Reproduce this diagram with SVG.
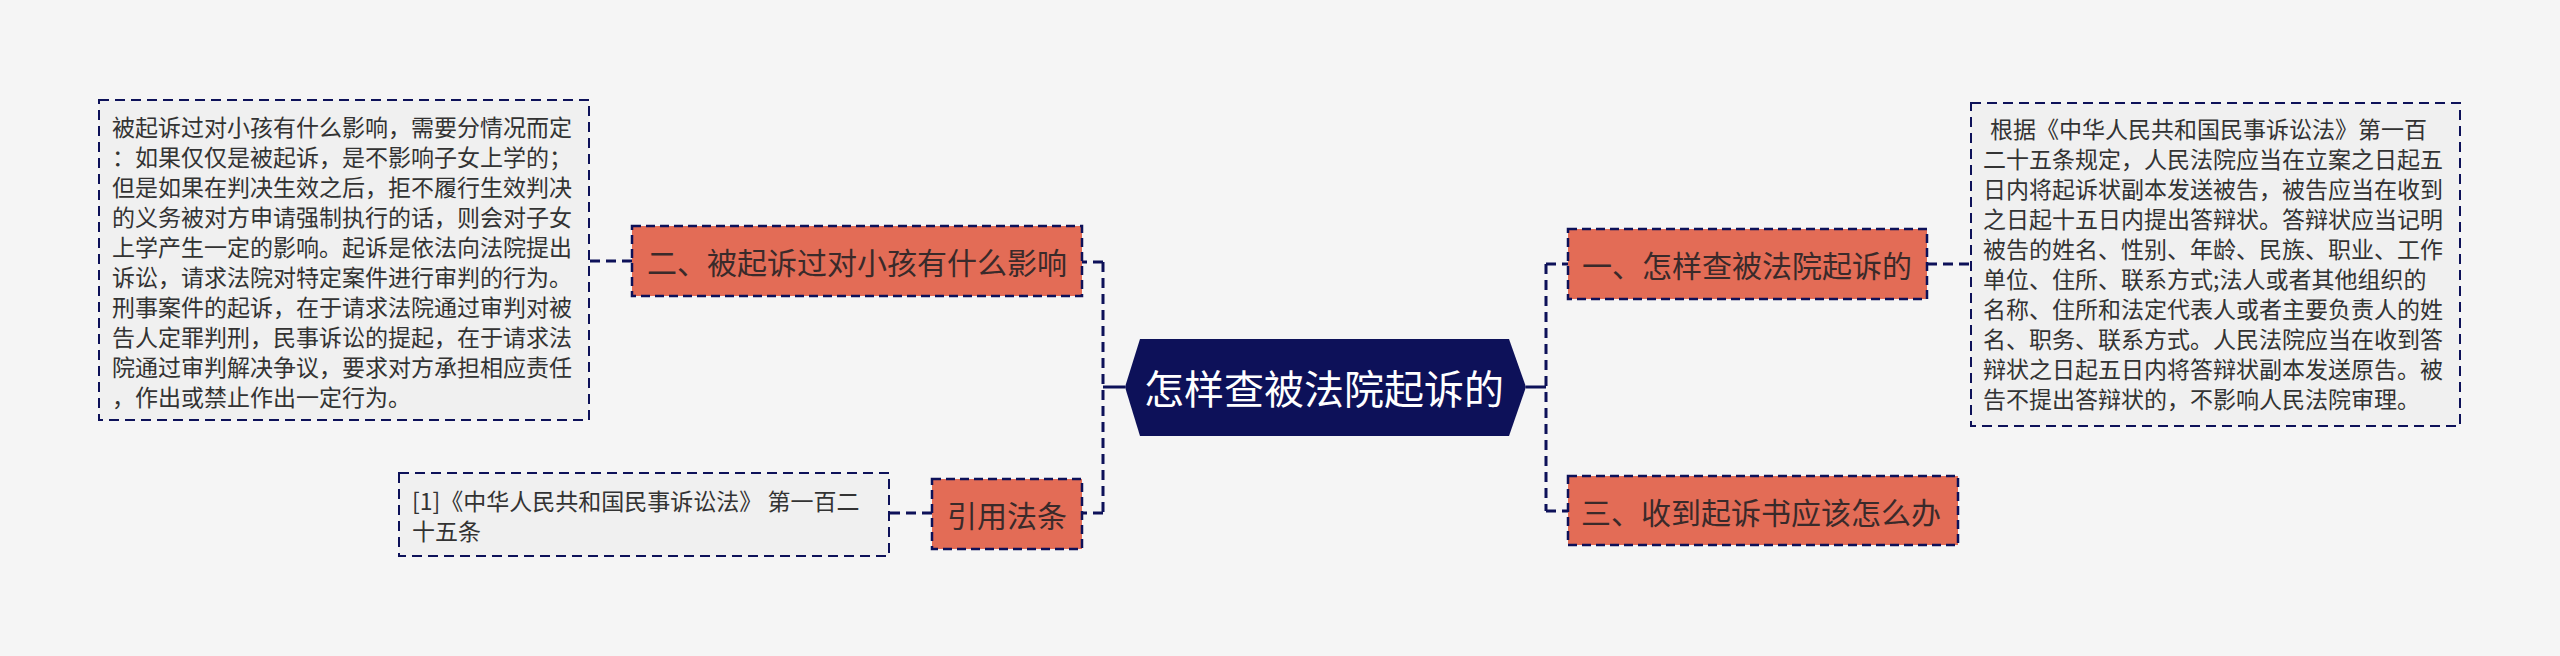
<svg xmlns="http://www.w3.org/2000/svg" width="2560" height="656" viewBox="0 0 2560 656">
<style>
.bg{fill:#f5f5f5}
.conn{fill:none;stroke:#0d1159;stroke-width:3;stroke-dasharray:10 6}
.solid{fill:none;stroke:#0d1159;stroke-width:3}
.topic{fill:#e36c56;stroke:#0d1159;stroke-width:2.5;stroke-dasharray:9 5}
.note{fill:#f0f0f0;stroke:#0d1159;stroke-width:2;stroke-dasharray:10 6}
.tt{font-family:"Noto Sans CJK SC","Noto Sans",sans-serif;font-size:30px;fill:#3a2a2a;text-anchor:middle;dominant-baseline:central}
.nt{font-family:"Noto Sans CJK SC","Noto Sans",sans-serif;font-size:23px;fill:#333333}
.ct{font-family:"Noto Sans CJK SC","Noto Sans",sans-serif;font-size:40px;fill:#ffffff;text-anchor:middle;dominant-baseline:central}
</style>
<rect class="bg" x="0" y="0" width="2560" height="656"/>
<g id="connectors">
<path class="solid" d="M1125 387H1103"/>
<path class="conn" d="M1103 262V514"/>
<path class="conn" d="M1103 262H1082"/>
<path class="conn" d="M1103 513H1082"/>
<path class="conn" d="M632 261H589"/>
<path class="conn" d="M932 513H889"/>
<path class="solid" d="M1526 387H1546"/>
<path class="conn" d="M1546 264V511"/>
<path class="conn" d="M1546 264H1568"/>
<path class="conn" d="M1546 511H1568"/>
<path class="conn" d="M1927 264H1971"/>
</g>
<g id="center">
<polygon points="1125,387 1140,339 1509,339 1526,387 1509,436 1140,436" fill="#0d1159"/>
<text class="ct" x="1324" y="387">怎样查被法院起诉的</text>
</g>
<g id="topic1">
<rect class="topic" x="1568" y="229" width="359" height="70"/>
<text class="tt" x="1747" y="264">一、怎样查被法院起诉的</text>
</g>
<g id="topic3">
<rect class="topic" x="1568" y="476" width="390" height="69"/>
<text class="tt" x="1761" y="511">三、收到起诉书应该怎么办</text>
</g>
<g id="topic2">
<rect class="topic" x="632" y="226" width="450" height="70"/>
<text class="tt" x="857" y="261">二、被起诉过对小孩有什么影响</text>
</g>
<g id="topicref">
<rect class="topic" x="932" y="479" width="150" height="70"/>
<text class="tt" x="1007" y="514">引用法条</text>
</g>
<g id="note1">
<rect class="note" x="1971" y="103" width="489" height="323"/>
<text class="nt">
<tspan x="1990" y="138">根据《中华人民共和国民事诉讼法》第一百</tspan>
<tspan x="1983" y="168">二十五条规定，人民法院应当在立案之日起五</tspan>
<tspan x="1983" y="198">日内将起诉状副本发送被告，被告应当在收到</tspan>
<tspan x="1983" y="228">之日起十五日内提出答辩状。答辩状应当记明</tspan>
<tspan x="1983" y="258">被告的姓名、性别、年龄、民族、职业、工作</tspan>
<tspan x="1983" y="288">单位、住所、联系方式;法人或者其他组织的</tspan>
<tspan x="1983" y="318">名称、住所和法定代表人或者主要负责人的姓</tspan>
<tspan x="1983" y="348">名、职务、联系方式。人民法院应当在收到答</tspan>
<tspan x="1983" y="378">辩状之日起五日内将答辩状副本发送原告。被</tspan>
<tspan x="1983" y="408">告不提出答辩状的，不影响人民法院审理。</tspan>
</text>
</g>
<g id="note2">
<rect class="note" x="99" y="100" width="490" height="320"/>
<text class="nt">
<tspan x="112" y="136">被起诉过对小孩有什么影响，需要分情况而定</tspan>
<tspan x="112" y="166">：如果仅仅是被起诉，是不影响子女上学的；</tspan>
<tspan x="112" y="196">但是如果在判决生效之后，拒不履行生效判决</tspan>
<tspan x="112" y="226">的义务被对方申请强制执行的话，则会对子女</tspan>
<tspan x="112" y="256">上学产生一定的影响。起诉是依法向法院提出</tspan>
<tspan x="112" y="286">诉讼，请求法院对特定案件进行审判的行为。</tspan>
<tspan x="112" y="316">刑事案件的起诉，在于请求法院通过审判对被</tspan>
<tspan x="112" y="346">告人定罪判刑，民事诉讼的提起，在于请求法</tspan>
<tspan x="112" y="376">院通过审判解决争议，要求对方承担相应责任</tspan>
<tspan x="112" y="406">，作出或禁止作出一定行为。</tspan>
</text>
</g>
<g id="noteref">
<rect class="note" x="399" y="473" width="490" height="83"/>
<text class="nt">
<tspan x="412" y="510">[1]《中华人民共和国民事诉讼法》 第一百二</tspan>
<tspan x="412" y="540">十五条</tspan>
</text>
</g>
</svg>
